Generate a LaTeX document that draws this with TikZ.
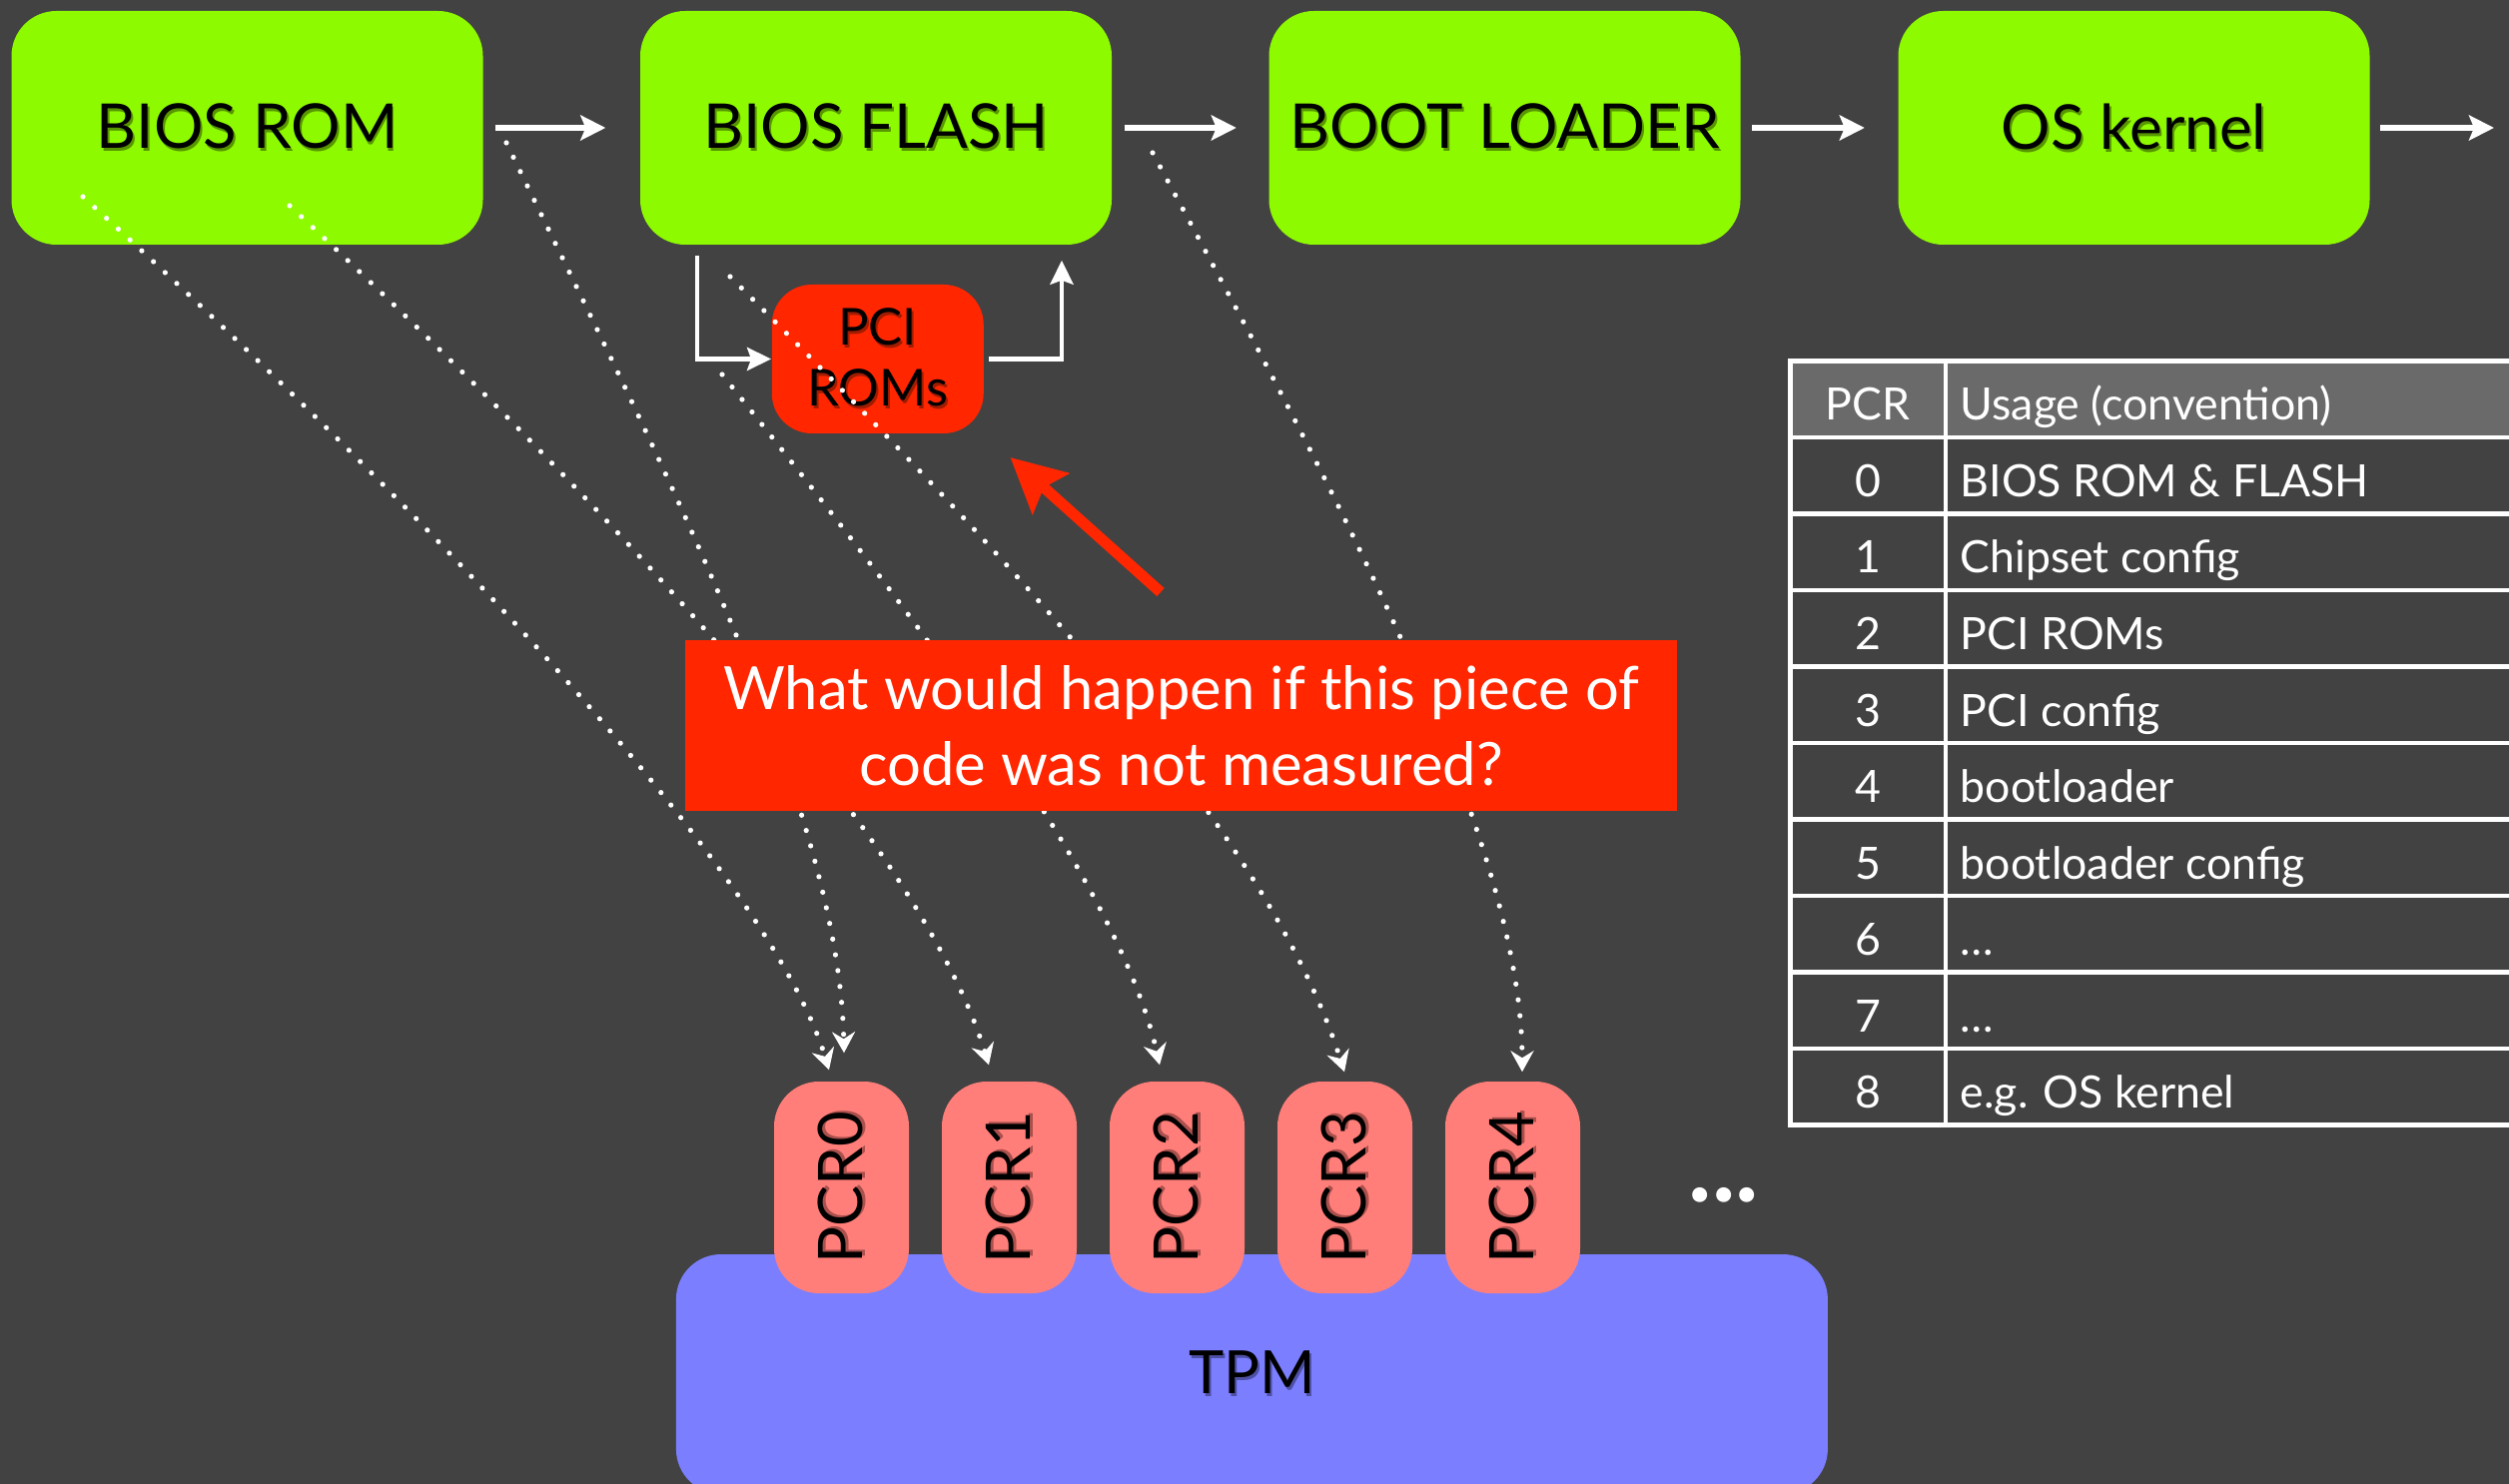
\documentclass[tikz,border=0pt]{standalone}
\usepackage{fontspec}
\usepackage{graphicx}
\setmainfont{Lato}
\usetikzlibrary{arrows.meta,calc}

\definecolor{bgdark}{HTML}{424242}
\definecolor{lime}{HTML}{8EFA00}
\definecolor{limeshade}{RGB}{88,150,0}
\definecolor{alertred}{HTML}{FF2600}
\definecolor{redshade}{RGB}{160,28,0}
\definecolor{salmon}{HTML}{FF7E79}
\definecolor{salmonshade}{RGB}{170,80,77}
\definecolor{lavender}{HTML}{7B7FFF}
\definecolor{lavshade}{RGB}{78,80,165}
\definecolor{headgrey}{HTML}{6A6A6A}

% text with a soft offset shadow behind it
\newcommand\shadowed[2]{\makebox[0pt][l]{\hspace{0.2mm}\raisebox{-0.3mm}{\textcolor{#2}{#1}}}#1}

\begin{document}
\begin{tikzpicture}[x=0.1mm,y=-0.1mm,
  stage/.style={rectangle, rounded corners=4.5mm, fill=lime, minimum width=47.2mm,
    minimum height=23.4mm, inner sep=0pt, text=black, font=\fontsize{17.6}{20}\selectfont},
  pcibox/.style={rectangle, rounded corners=4mm, fill=alertred, minimum width=21.2mm,
    minimum height=14.9mm, inner sep=0pt, text=black, align=center,
    font=\fontsize{14.5}{17.4}\selectfont},
  callout/.style={rectangle, fill=alertred, minimum width=99.3mm, minimum height=17.1mm,
    inner sep=0pt, text=white, align=center, font=\fontsize{17}{21.6}\selectfont},
  pcrbox/.style={rectangle, rounded corners=4.5mm, fill=salmon, minimum width=13.5mm,
    minimum height=21.2mm, inner sep=0pt, text=black, font=\fontsize{17.5}{20}\selectfont},
  tpmbox/.style={rectangle, rounded corners=4.5mm, fill=lavender, minimum width=115.3mm,
    minimum height=24mm, inner sep=0pt, text=black, font=\fontsize{17}{20}\selectfont},
  cell/.style={inner sep=0pt, text=white, font=\fontsize{12.7}{15}\selectfont},
  flow/.style={draw=white, line width=0.55mm, -{Stealth[length=2.5mm,width=2.5mm,inset=0.5mm]}},
  loopflow/.style={draw=white, line width=0.45mm, -{Stealth[length=2.4mm,width=2.3mm,inset=0.4mm]}},
  measure/.style={draw=white, line width=0.52mm, line cap=round, dash pattern=on 0mm off 1.6mm,
    -{Stealth[length=2.1mm,width=2.3mm,inset=0.7mm]}},
  gridline/.style={draw=white, line width=0.45mm}
]
\fill[bgdark] (0,0) rectangle (2512,1486);
\useasboundingbox (0,0) rectangle (2512,1486);

% boot chain
\node[stage] (biosrom)    at (247.5,128)  {\shadowed{BIOS ROM}{limeshade}};
\node[stage] (biosflash)  at (877,128)    {\shadowed{BIOS FLASH}{limeshade}};
\node[stage] (bootloader) at (1506.5,128) {\shadowed{BOOT LOADER}{limeshade}};
\node[stage] (oskernel)   at (2136.5,128) {\shadowed{OS kernel}{limeshade}};
\coordinate (onward) at (2497,128);

\draw[flow, shorten <=1.2mm, shorten >=3.4mm] (biosrom.east) -- (biosflash.west);
\draw[flow, shorten <=1.2mm, shorten >=3.2mm] (biosflash.east) -- (bootloader.west);
\draw[flow, shorten <=1.1mm, shorten >=3.3mm] (bootloader.east) -- (oskernel.west);
\draw[flow, shorten <=1.0mm] (oskernel.east) -- (onward);

% option ROM detour
\node[pcibox] (pci) at (878.75,359.5) {\shadowed{PCI}{redshade}\\\shadowed{ROMs}{redshade}};
\coordinate (detourin) at (698,0);
\coordinate (detourout) at (1063,0);
\draw[loopflow, shorten <=1mm] (biosflash.south -| detourin) |- (pci.west);
\draw[loopflow, shorten <=0.5mm, shorten >=1.5mm] (pci.east) -| (biosflash.south -| detourout);

% TPM and its registers
\node[tpmbox] (tpm) at (1253.4,1376) {\shadowed{TPM}{lavshade}};
\foreach \i in {0,1,2,3,4}{
  \node[pcrbox] (pcr\i) at ({842.5+168*\i},1189) {\rotatebox{90}{\shadowed{PCR\i}{salmonshade}}};
}
\node[text=white, inner sep=0pt, font=\bfseries\fontsize{28}{28}\selectfont] (more) at (1726,1196.7) {...};

% measurements
\coordinate (mA) at (83,197);
\coordinate (mB) at (290,206);
\coordinate (mC) at (507,143);
\coordinate (mD) at (731,277);
\coordinate (mE) at (723,375);
\coordinate (mF) at (1154,153);
\draw[measure] (mA) .. controls (413,497) and (770,872) .. ($(pcr0.north)+(-12.5,-11)$);
\draw[measure] (mC) .. controls (657,453) and (840,805) .. ($(pcr0.north)+(2.5,-28)$);
\draw[measure] (mB) .. controls (590,486) and (920,837) .. ($(pcr1.north)+(-20.5,-16)$);
\draw[measure] (mE) .. controls (923,625) and (1121,887) .. ($(pcr2.north)+(-17.5,-16)$);
\draw[measure] (mD) .. controls (1061,607) and (1276,854) .. ($(pcr3.north)+(-0.5,-9)$);
\draw[measure] (mF) .. controls (1304,433) and (1524,824) .. ($(pcr4.north)+(9.5,-9)$);

% question
\node[callout] (question) at (1182.5,726.5) {What would happen if this piece of\\code was not measured?};
\coordinate (pointer) at (1162,593);
\draw[draw=alertred, line width=1.1mm, shorten >=3.5mm,
  -{Stealth[length=5.4mm,width=5.4mm,inset=0.9mm]}] (pointer) -- (pci.south east);

% PCR usage table
\fill[headgrey] (1792,361.5) rectangle (2530,438);
\foreach \k in {0,1,2,3,4,5,6,7,8,9,10}{
  \draw[gridline] (1790,{361.5+76.5*\k}) -- (2530,{361.5+76.5*\k});
}
\draw[gridline] (1792.5,361.5) -- (1792.5,1126.5);
\draw[gridline] (1948,361.5) -- (1948,1126.5);
\node[cell, anchor=base] (hpcr) at (1870,421) {PCR};
\node[cell, anchor=base west] (husage) at (1962,421) {Usage (convention)};
\foreach \lab [count=\k from 0] in {BIOS ROM \& FLASH, Chipset config, PCI ROMs, PCI config,
    bootloader, bootloader config, …, …, e.g. OS kernel}{
  \node[cell, anchor=base] (n\k) at (1870,{497.5+76.5*\k}) {\k};
  \node[cell, anchor=base west] (u\k) at (1962,{497.5+76.5*\k}) {\lab};
}
\end{tikzpicture}
\end{document}
